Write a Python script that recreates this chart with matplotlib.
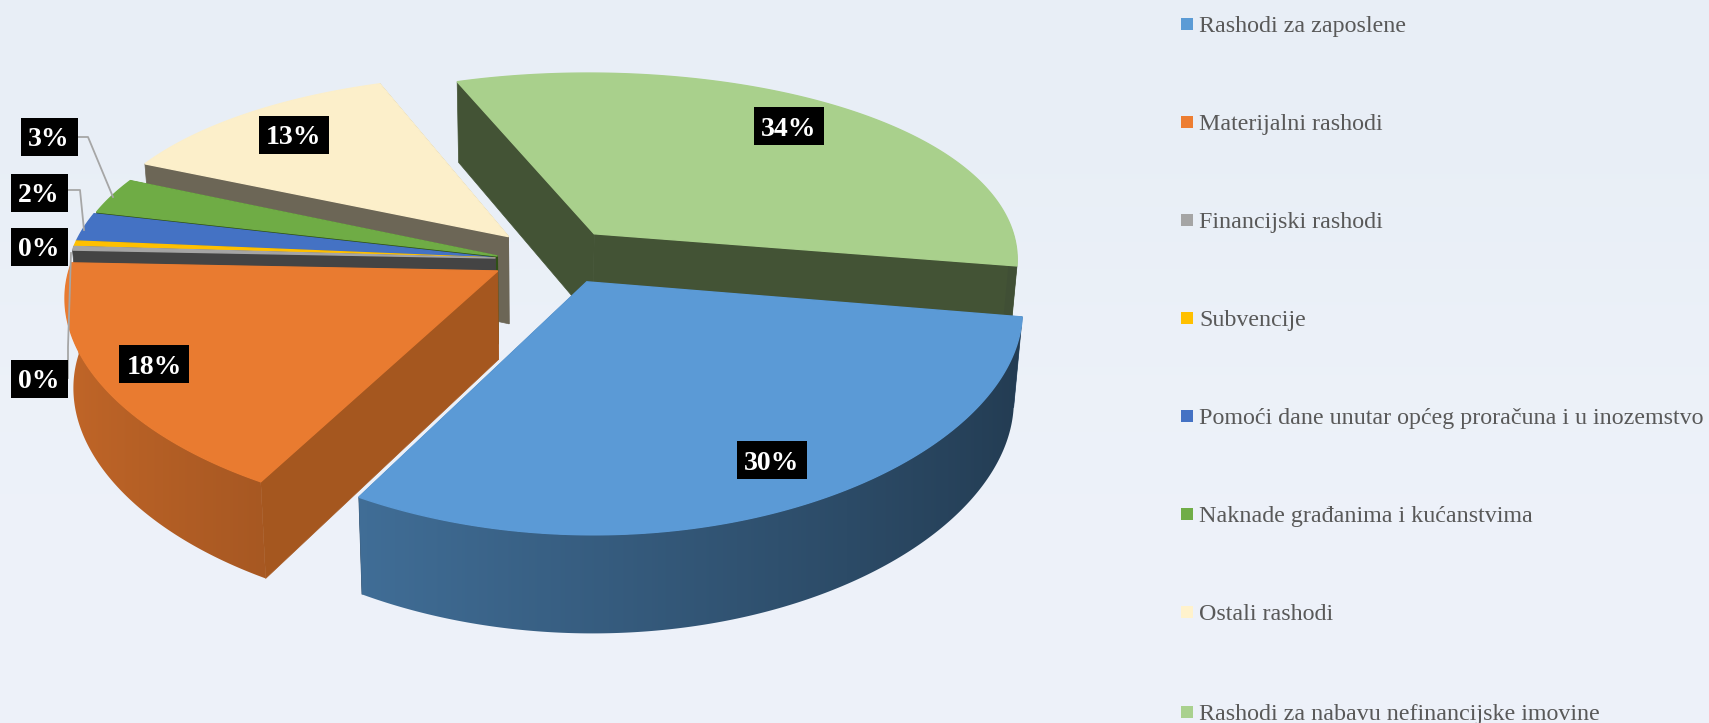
import numpy as np
import matplotlib
matplotlib.use("Agg")
import matplotlib.pyplot as plt
from matplotlib.colors import to_rgb
from matplotlib.patches import Polygon

# Data
categories = ["Rashodi za zaposlene", "Materijalni rashodi", "Financijski rashodi", "Subvencije",
              "Pomoći dane unutar općeg proračuna i u inozemstvo", "Naknade građanima i kućanstvima",
              "Ostali rashodi", "Rashodi za nabavu nefinancijske imovine"]
values = [30.4, 17.6, 0.3, 0.45, 2.35, 3.0, 12.6, 33.3]
labels = ["30%", "18%", "0%", "0%", "2%", "3%", "13%", "34%"]

colors = ["#5b9bd5", "#ed7d31", "#a5a5a5", "#ffc000", "#4472c4", "#70ad47", "#fff2cc", "#a9d18e"]
top_colors = ["#5b9ad6", "#e97b30", "#a5a5a5", "#ffc000", "#4472c4", "#6fac45", "#fcefca", "#a9d08c"]
cut_colors = ["#2a4a68", "#a5571f", "#444444", "#7f6000", "#1f3864", "#2f5016", "#6c6656", "#435335"]
# how far each slice is pulled out of the pie
pull_x = [0.113, -0.094, -0.10, -0.10, -0.10, -0.095, -0.07, 0.134]
pull_y = [-0.128, -0.075, -0.01, -0.01, -0.01, 0.0, 0.10, 0.115]

# Geometry of the tilted pie
CX, CY = 538, 256
RX, RY = 425, 197
DEPTH = 88
PERSP = 0.18
PERSP_X = 0.12
LOWER = 0.018
START = 99.5


def project(x, y, z=0.0):
    d = 1 + PERSP * y
    dx = 1 + PERSP_X * y
    return CX + RX * x / (dx * (1 + LOWER * z)), CY - RY * y / d + DEPTH * z / np.sqrt(d)


fig = plt.figure(figsize=(17.09, 7.23), dpi=100)
ax = fig.add_axes([0, 0, 1, 1])
ax.set_xlim(0, 1709)
ax.set_ylim(723, 0)
ax.set_autoscale_on(False)
ax.axis("off")

bg = np.array([[0.910, 0.935, 0.965], [0.925, 0.945, 0.975], [0.933, 0.949, 0.980]])
ax.imshow(bg[:, None, :], extent=[0, 1709, 723, 0], aspect="auto", interpolation="bilinear", zorder=0)

total = sum(values)
angles = START + np.cumsum([0] + values) / total * 360

slices = []
for i in range(len(values)):
    a = np.radians(np.arange(angles[i], angles[i + 1], 0.5).tolist() + [angles[i + 1]])
    mid = np.radians((angles[i] + angles[i + 1]) / 2)
    slices.append((np.cos(mid) + pull_y[i], i, a, pull_x[i], pull_y[i]))

z = 1
for _, i, a, ox, oy in sorted(slices, key=lambda s: -s[0]):
    rx = ox + np.sin(a)
    ry = oy + np.cos(a)
    # cut faces
    for k in (0, -1):
        px, py = project(np.array([ox, rx[k], rx[k], ox]), np.array([oy, ry[k], ry[k], oy]),
                         np.array([0, 0, 1, 1]))
        ax.fill(px, py, color=cut_colors[i], lw=0.5, zorder=z)
        z += 1
    # outer wall, only the part facing us, shaded by position
    front = np.cos(a) < 0.03
    if front.sum() > 1:
        tx, ty = project(rx[front], ry[front], 0.0)
        bx, by = project(rx[front], ry[front], 1.0)
        poly = Polygon(np.c_[np.r_[tx, bx[::-1]], np.r_[ty, by[::-1]]], closed=True,
                       transform=ax.transData, fc="none", ec="none")
        ax.add_patch(poly)
        order = np.argsort(tx)
        x0, x1 = tx.min() - 12, tx.max() + 12
        cols = np.linspace(x0, x1, 300)
        shade = np.interp(cols, tx[order], 0.60 - 0.22 * np.sin(a[front])[order])
        base = np.array(to_rgb(colors[i]))
        img = (shade[:, None] * base)[None, :, :]
        im = ax.imshow(img, extent=[x0, x1, by.max() + 2, min(ty.min(), by.min()) - 2],
                       aspect="auto", interpolation="bilinear", zorder=z)
        im.set_clip_path(poly)
    z += 1
    # top
    px, py = project(np.r_[ox, rx], np.r_[oy, ry])
    ax.fill(px, py, color=top_colors[i], lw=1.0, zorder=z)
    z += 1

# leader lines
lead = dict(color="#a6a6a6", lw=1.3, zorder=z)
ax.plot([77, 88, 113], [137, 137, 197], **lead)
ax.plot([68, 80, 84], [190, 190, 230], **lead)
ax.plot([68, 68, 71], [378, 347, 253], **lead)

# data labels
label_pos = [(772, 460), (154, 364), (39, 379), (39, 247), (39, 193), (49, 137), (294, 135), (789, 126)]
for txt, (x, y) in zip(labels, label_pos):
    w = 35 if len(txt) == 3 else 28.5
    ax.fill([x - w, x + w, x + w, x - w], [y - 19, y - 19, y + 19, y + 19], color="black", lw=0, zorder=z + 1)
    ax.text(x, y, txt, family="Liberation Serif", weight="bold", fontsize=20, color="white",
            ha="center", va="center_baseline", zorder=z + 2)

# legend
legend_y = [24, 122, 220, 318, 416, 514, 612, 712]
for c, name, y in zip(colors, categories, legend_y):
    ax.fill([1181, 1193, 1193, 1181], [y - 6, y - 6, y + 6, y + 6], color=c, lw=0, zorder=z)
    ax.text(1199, y, name, family="Liberation Serif", fontsize=17.3, color="#595959",
            va="center_baseline", ha="left", zorder=z)

fig.savefig("out.png", dpi=100)
